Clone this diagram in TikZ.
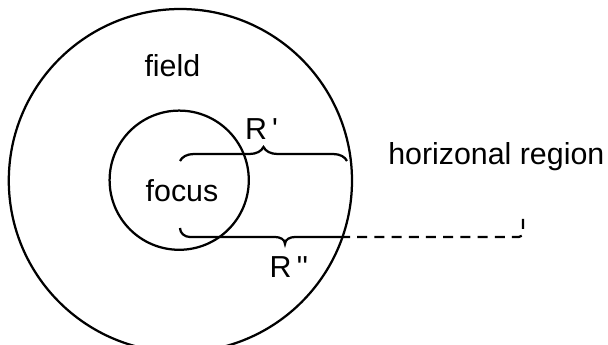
\documentclass[tikz,border=0pt]{standalone}
\usepackage{fontspec}
\setmainfont{Liberation Sans}
\usetikzlibrary{decorations.pathreplacing}

\begin{document}
\begin{tikzpicture}[
  ring/.style={draw, circle, line width=1.6pt, inner sep=0pt},
  lbl/.style={anchor=base, inner sep=0pt, font=\fontsize{21.6}{26}\selectfont},
  brc/.style={line width=1.6pt, decorate, decoration={brace, amplitude=0.35cm}},
  dsh/.style={line width=1.6pt, dash pattern=on 0.25cm off 0.18cm, dash phase=0.25cm}
]
\useasboundingbox (0,0) rectangle (15.2,8.625);
\clip (0,0) rectangle (15.2,8.625);
% Circles
\node[ring, minimum size=8.58cm] (fieldring) at (4.51,4.11) {};
\node[ring, minimum size=3.48cm] (focusring) at (4.48,4.12) {};
% Labels
\node[lbl] (field)   at (4.31,6.7)   {field};
\node[lbl] (focus)   at (4.55,3.575) {focus};
\node[lbl] (rone)    at (6.54,5.125) {R\,\textquotesingle};
\node[lbl] (rtwo)    at (7.225,1.7)  {R\,\textquotesingle\textquotesingle};
\node[lbl, anchor=base west] (horiz) at (9.7,4.5) {horizonal region};
% Brace ends
\coordinate (ronea) at (4.5,4.6);
\coordinate (roneb) at (8.675,4.6);
\coordinate (rtwoa) at (4.5,2.925);
\coordinate (rtwoc) at (7.125,2.525);
\coordinate (rtwod) at (8.75,2.7);
\coordinate (rtwoe) at (13.075,3.3);
% Braces
\draw[brc] (ronea) -- (roneb);
\draw[line width=1.6pt] (rtwoa) to[out=-90,in=180] ++(0.25,-0.225)
  -- ([xshift=-0.25cm]rtwoc |- rtwod) to[out=0,in=90] (rtwoc)
  to[out=90,in=180] ([xshift=0.25cm]rtwoc |- rtwod) -- (rtwod);
\draw[dsh, rounded corners=3pt] (rtwod) -- (rtwoe |- rtwod) -- (rtwoe);
\end{tikzpicture}
\end{document}
